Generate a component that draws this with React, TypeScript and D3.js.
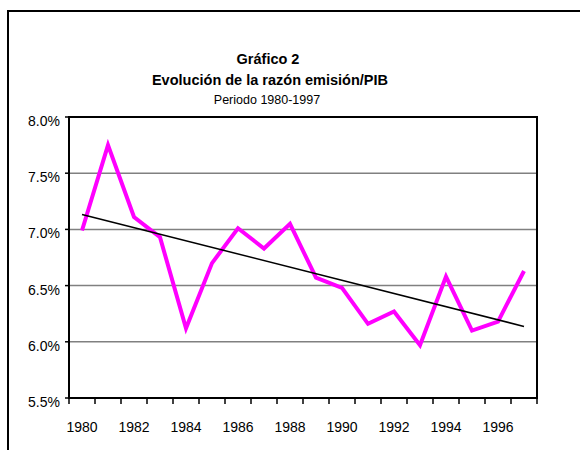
import { useMemo } from 'react'
import * as d3 from 'd3'

const WIDTH = 580
const HEIGHT = 450
const MARGIN = { top: 117, right: 43, bottom: 52, left: 69 }

// años y razón emisión/PIB (%)
const years = [
  1980, 1981, 1982, 1983, 1984, 1985, 1986, 1987, 1988, 1989, 1990, 1991,
  1992, 1993, 1994, 1995, 1996, 1997,
]
const ratio = [
  6.99, 7.75, 7.11, 6.93, 6.12, 6.7, 7.01, 6.83, 7.05, 6.57, 6.48, 6.16, 6.27,
  5.97, 6.58, 6.1, 6.18, 6.63,
]
const yTicks = [5.5, 6.0, 6.5, 7.0, 7.5, 8.0]
const gridTicks = [6.0, 6.5, 7.0, 7.5]
const xLabels = [1980, 1982, 1984, 1986, 1988, 1990, 1992, 1994, 1996]

const FONT = '"Liberation Sans", Arial, sans-serif'

export default function App() {
  const boundsWidth = WIDTH - MARGIN.left - MARGIN.right
  const boundsHeight = HEIGHT - MARGIN.top - MARGIN.bottom

  const xScale = useMemo(
    () =>
      d3
        .scaleBand<number>()
        .domain(years)
        .range([MARGIN.left, MARGIN.left + boundsWidth])
        .padding(0),
    [boundsWidth]
  )
  const yScale = useMemo(
    () =>
      d3
        .scaleLinear()
        .domain([5.5, 8.0])
        .range([MARGIN.top + boundsHeight, MARGIN.top]),
    [boundsHeight]
  )

  const cx = (yr: number) => (xScale(yr) as number) + xScale.bandwidth() / 2

  // tendencia lineal (mínimos cuadrados)
  const trend = useMemo(() => {
    const n = ratio.length
    const xs = d3.range(n)
    const mx = d3.mean(xs) as number
    const my = d3.mean(ratio) as number
    const sxy = d3.sum(xs, (x, i) => (x - mx) * (ratio[i] - my))
    const sxx = d3.sum(xs, (x) => (x - mx) ** 2)
    const b = sxy / sxx
    const a = my - b * mx
    return [
      [years[0], a],
      [years[n - 1], a + b * (n - 1)],
    ] as [number, number][]
  }, [])

  const line = d3
    .line<[number, number]>()
    .x((d) => cx(d[0]))
    .y((d) => yScale(d[1]))

  const series = years.map((y, i) => [y, ratio[i]] as [number, number])

  const x0 = MARGIN.left
  const x1 = MARGIN.left + boundsWidth
  const y0 = MARGIN.top
  const y1 = MARGIN.top + boundsHeight

  const tickEdges = years.map((y) => xScale(y) as number).concat([x1])

  return (
    <svg
      width={WIDTH}
      height={HEIGHT}
      style={{ position: 'fixed', left: 0, top: 0, background: 'white' }}
    >
      <rect x={0} y={0} width={WIDTH} height={HEIGHT} fill="white" />
      {/* marco exterior */}
      <rect
        x={8}
        y={11}
        width={WIDTH + 20}
        height={HEIGHT + 20}
        fill="none"
        stroke="black"
        strokeWidth={2}
      />

      <g fontFamily={FONT} textAnchor="middle" fill="black">
        <text x={268} y={64} fontSize={14.5} fontWeight="bold">
          Gráfico 2
        </text>
        <text x={270} y={85} fontSize={14.5} fontWeight="bold">
          Evolución de la razón emisión/PIB
        </text>
        <text x={267} y={104} fontSize={12.5}>
          Periodo 1980-1997
        </text>
      </g>

      {/* rejilla */}
      {gridTicks.map((t) => (
        <line
          key={t}
          x1={x0}
          x2={x1}
          y1={yScale(t)}
          y2={yScale(t)}
          stroke="#808080"
          strokeWidth={1.5}
        />
      ))}

      {/* borde del área */}
      <path
        d={`M${x0},${y0}H${x1}V${y1}`}
        fill="none"
        stroke="black"
        strokeWidth={2}
      />

      {/* eje Y */}
      <line x1={x0} x2={x0} y1={y0 - 1} y2={y1 + 1} stroke="black" strokeWidth={2} />
      {yTicks.map((t) => (
        <g key={t}>
          <line
            x1={x0 - 4}
            x2={x0}
            y1={yScale(t)}
            y2={yScale(t)}
            stroke="black"
            strokeWidth={1.5}
          />
          <text
            x={x0 - 9}
            y={yScale(t) + 4}
            fontFamily={FONT}
            fontSize={14}
            textAnchor="end"
            dominantBaseline="central"
          >
            {t.toFixed(1)}%
          </text>
        </g>
      ))}

      {/* eje X */}
      <line x1={x0 - 1} x2={x1 + 1} y1={y1} y2={y1} stroke="black" strokeWidth={2} />
      {tickEdges.map((x, i) => (
        <line
          key={i}
          x1={x}
          x2={x}
          y1={y1}
          y2={y1 + 6}
          stroke="black"
          strokeWidth={1.5}
        />
      ))}
      {xLabels.map((yr) => (
        <text
          key={yr}
          x={cx(yr)}
          y={432}
          fontFamily={FONT}
          fontSize={14}
          textAnchor="middle"
        >
          {yr}
        </text>
      ))}

      {/* serie */}
      <path
        d={line(series) ?? ''}
        fill="none"
        stroke="#FF00FF"
        strokeWidth={4}
        strokeLinejoin="miter"
      />
      <path d={line(trend) ?? ''} fill="none" stroke="black" strokeWidth={1.5} />
    </svg>
  )
}
